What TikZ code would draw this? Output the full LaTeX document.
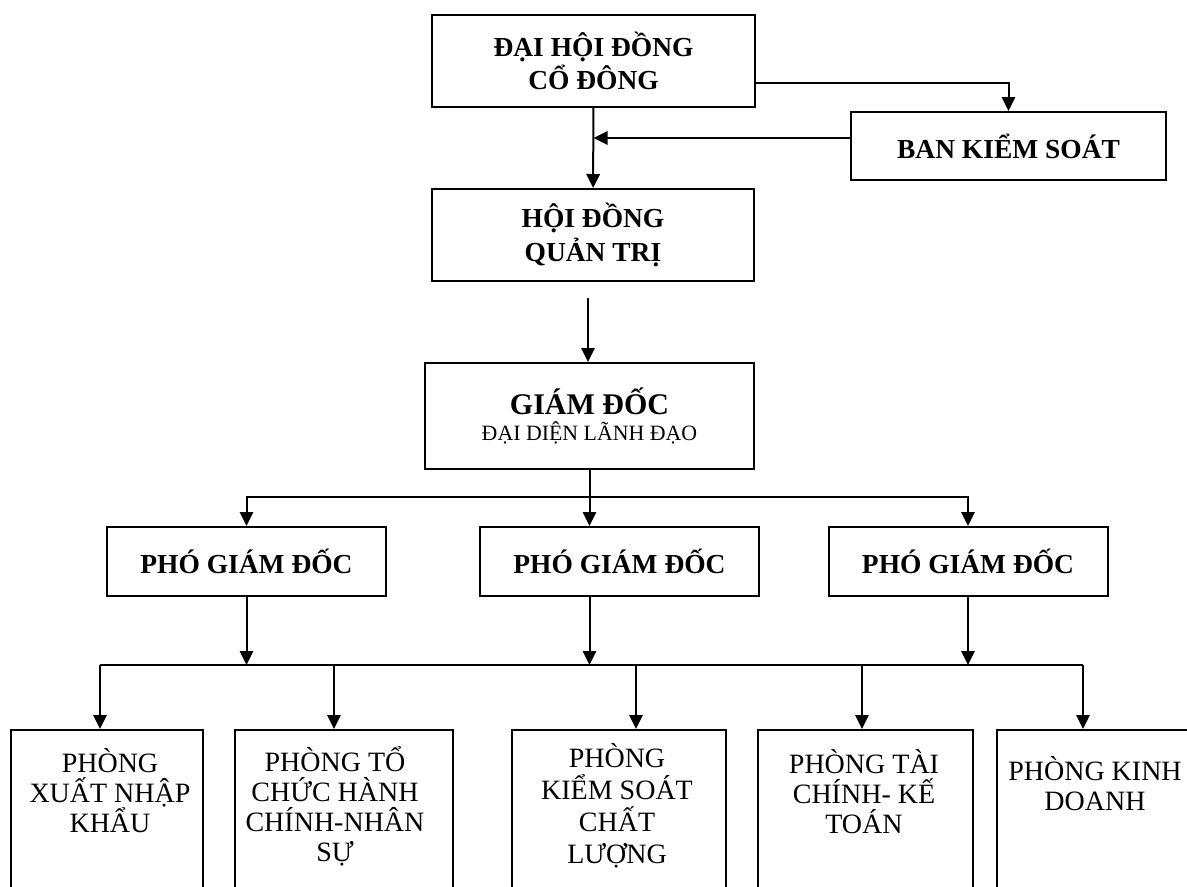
\documentclass[tikz,border=0pt]{standalone}
\usepackage{fontspec}
\setmainfont{Liberation Serif}
\usetikzlibrary{arrows.meta}

\begin{document}
\begin{tikzpicture}[x=0.75pt,y=-0.75pt,line width=1.5pt,>={Triangle[length=10.5pt,width=10pt]}]
\tikzstyle{box}=[rectangle,draw,line width=1.5pt,inner sep=0pt,align=center]
\tikzstyle{boss}=[box,font=\fontsize{20.6}{25}\selectfont\bfseries]
\tikzstyle{unit}=[box,minimum width=#1,minimum height=127.5pt]
\tikzstyle{unittext}=[inner sep=0pt,align=center,anchor=north,font=\fontsize{21}{22.5}\selectfont]
\useasboundingbox (0,0) rectangle (1187,886);

% upper part
\node[boss,minimum width=242.25pt,minimum height=69pt] (dhcd) at (593.5,61) {ĐẠI HỘI ĐỒNG\\CỔ ĐÔNG};
\node[boss,minimum width=236.25pt,minimum height=51pt] (bks) at (1008.5,146) {BAN KIỂM SOÁT};
\node[boss,minimum width=241.5pt,minimum height=69pt] (hdqt) at (593,235) {HỘI ĐỒNG\\QUẢN TRỊ};
\node[box,minimum width=246.75pt,minimum height=79.5pt,font=\fontsize{16.4}{20}\selectfont] (gd) at (589.5,416)
  {{\fontsize{22.5}{26}\selectfont\bfseries GIÁM ĐỐC}\\ĐẠI DIỆN LÃNH ĐẠO};

% deputies
\node[boss,minimum width=209.25pt,minimum height=51.75pt] (pgda) at (246.5,561.5) {PHÓ GIÁM ĐỐC};
\node[boss,minimum width=209.25pt,minimum height=51.75pt] (pgdb) at (619.5,561.5) {PHÓ GIÁM ĐỐC};
\node[boss,minimum width=209.25pt,minimum height=51.75pt] (pgdc) at (968,561.5) {PHÓ GIÁM ĐỐC};

% departments
\node[unit=144pt] (pxnk) at (107,815) {};
\node[unit=163.5pt] (ptc) at (344,815) {};
\node[unit=160.5pt] (pks) at (619,815) {};
\node[unit=161.25pt] (ptk) at (865.5,815) {};
\node[unit=148.5pt] (pkd) at (1096,815) {};
\node[unittext] (pxnkt) at (110,747) {PHÒNG\\XUẤT NHẬP\\KHẨU};
\node[unittext] (ptct) at (335,746) {PHÒNG TỔ\\CHỨC HÀNH\\CHÍNH-NHÂN\\SỰ};
\node[unittext,font=\fontsize{21}{24}\selectfont] (pkst) at (617,742) {PHÒNG\\KIỂM SOÁT\\CHẤT\\LƯỢNG};
\node[unittext] (ptkt) at (864,748) {PHÒNG TÀI\\CHÍNH- KẾ\\TOÁN};
\node[unittext] (pkdt) at (1095,755) {PHÒNG KINH\\DOANH};

\coordinate (ja) at (0,497);
\coordinate (jb) at (0,665);
\coordinate (b1) at (100,665);
\coordinate (b2) at (334,665);
\coordinate (b3) at (636,665);
\coordinate (b4) at (862,665);
\coordinate (b5) at (1083,665);

\draw[->] (dhcd) -- (hdqt);
\draw[->] ([yshift=-16.5pt]dhcd.east) -| (bks.north);
\draw[->] ([yshift=6pt]bks.west) -- ([yshift=6pt]bks.west -| dhcd.south);
\draw[->] ([xshift=-3.75pt,yshift=-12pt]hdqt.south) -- ([xshift=-3.75pt]hdqt.south |- gd.north);

\draw[->] (gd.south) -- (gd.south |- ja) -| (pgda.north);
\draw[->] (gd.south |- ja) -| (pgdc.north);
\draw[->] (gd.south) -- (gd.south |- pgdb.north);

\draw[->] (pgda.south) -- (pgda.south |- jb);
\draw[->] (gd.south |- pgdb.south) -- (gd.south |- jb);
\draw[->] (pgdc.south) -- (pgdc.south |- jb);

\draw (b1) -- (b5);
\draw[->] (b1) -- (b1 |- pxnk.north);
\draw[->] (b2) -- (b2 |- ptc.north);
\draw[->] (b3) -- (b3 |- pks.north);
\draw[->] (b4) -- (b4 |- ptk.north);
\draw[->] (b5) -- (b5 |- pkd.north);
\end{tikzpicture}
\end{document}
